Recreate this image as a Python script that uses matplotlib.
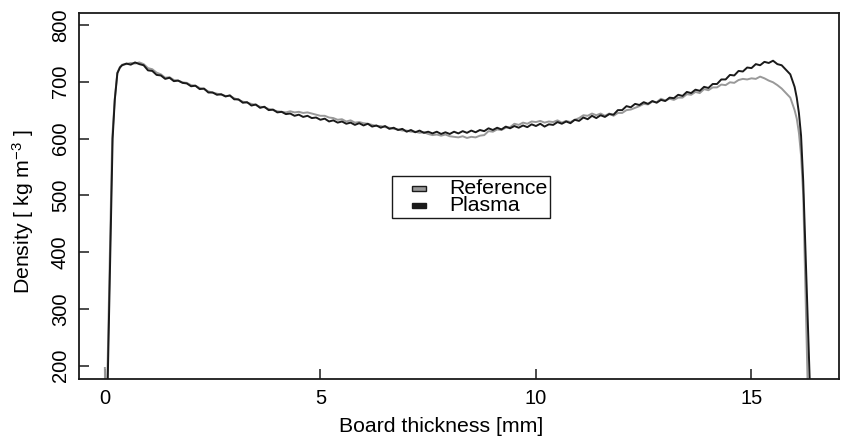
import matplotlib
matplotlib.use("Agg")
import matplotlib.pyplot as plt
from matplotlib.patches import Patch, Rectangle
from matplotlib.legend_handler import HandlerPatch

plt.rcParams['font.family'] = ['Liberation Sans', 'DejaVu Sans']
plt.rcParams['mathtext.fontset'] = 'custom'
plt.rcParams['mathtext.rm'] = 'Liberation Sans'
plt.rcParams['mathtext.it'] = 'Liberation Sans'

# ---- data ----
x_mid = [round(0.4 + 0.1 * i, 1) for i in range(156)]  # 0.4 .. 15.9

plasma_mid = [
    729, 732, 730, 734, 731, 729, 720, 719, 712, 711,
    705, 707, 701, 702, 698, 697, 692, 693, 687, 688,
    681, 681, 677, 678, 674, 676, 669, 669, 663, 664,
    658, 660, 654, 656, 650, 651, 646, 647, 643, 644,
    640, 642, 638, 640, 636, 637, 633, 635, 630, 632,
    628, 630, 626, 628, 624, 627, 623, 626, 621, 623,
    619, 622, 617, 619, 615, 617, 612, 615, 611, 614,
    610, 612, 609, 612, 608, 611, 608, 612, 609, 613,
    610, 614, 611, 615, 613, 618, 615, 619, 616, 621,
    618, 622, 619, 623, 620, 625, 622, 626, 621, 625,
    624, 629, 626, 630, 627, 633, 631, 637, 634, 640,
    636, 641, 638, 643, 642, 650, 650, 657, 655, 661,
    659, 664, 661, 666, 663, 668, 666, 672, 671, 677,
    675, 682, 680, 686, 684, 691, 689, 696, 696, 704,
    704, 712, 711, 719, 718, 725, 724, 731, 729, 735,
    733, 737, 731, 729, 721, 713,
]

reference_mid = [
    730, 731, 733, 732, 734, 731, 724, 722, 716, 713,
    707, 708, 703, 702, 699, 698, 694, 693, 689, 687,
    683, 681, 679, 677, 675, 675, 671, 668, 665, 663,
    661, 659, 656, 655, 652, 650, 648, 647, 646, 648,
    646, 647, 645, 646, 644, 642, 640, 640, 637, 636,
    633, 634, 630, 632, 628, 629, 627, 626, 624, 622,
    622, 620, 619, 617, 616, 614, 614, 612, 612, 610,
    611, 608, 606, 607, 605, 607, 604, 603, 602, 604,
    601, 603, 602, 605, 606, 613, 612, 616, 615, 619,
    620, 626, 624, 628, 626, 630, 629, 631, 628, 630,
    629, 632, 628, 631, 629, 633, 636, 641, 640, 644,
    641, 644, 640, 644, 640, 645, 645, 650, 651, 654,
    657, 661, 660, 665, 664, 670, 667, 670, 668, 672,
    672, 678, 677, 682, 680, 687, 685, 690, 690, 695,
    694, 699, 698, 703, 705, 704, 706, 705, 709, 706,
    702, 699, 694, 688, 680, 672,
]

plasma_x = [0.06, 0.18, 0.23, 0.29, 0.35] + x_mid + [16.0, 16.05, 16.1, 16.15, 16.2, 16.35, 16.38]
plasma_y = [150, 600, 668, 715, 725] + plasma_mid + [691, 672, 645, 605, 525, 176, 100]

reference_x = [0.0, 0.01, 0.05, 0.17, 0.23, 0.29, 0.35] + x_mid + [16.0, 16.05, 16.1, 16.15, 16.2, 16.3, 16.32]
reference_y = [196, 100, 150, 600, 670, 716, 726] + reference_mid + [650, 635, 610, 570, 500, 176, 100]

series_names = ["Reference", "Plasma"]
series_colors = ["#999999", "#1a1a1a"]
x_ticks = [0, 5, 10, 15]
y_ticks = [200, 300, 400, 500, 600, 700, 800]

# ---- figure ----
fig = plt.figure(figsize=(8.41, 4.46), dpi=100)
ax = fig.add_axes([79 / 841, 67 / 446, 760 / 841, 366 / 446])

ax.plot(reference_x, reference_y, color=series_colors[0], lw=1.4)
ax.plot(plasma_x, plasma_y, color=series_colors[1], lw=1.4)

ax.set_xlim(-0.6, 17.03)
ax.set_ylim(176.6, 821)
ax.set_xticks(x_ticks)
ax.set_yticks(y_ticks)
ax.tick_params(direction='in', length=7.2, width=1.1, labelsize=14.5, color='#1a1a1a')
ax.tick_params(axis='x', pad=7.5)
ax.tick_params(axis='y', pad=6.5)
for lab in ax.get_yticklabels():
    lab.set_rotation(90)
    lab.set_va('center')
for s in ax.spines.values():
    s.set_linewidth(1.3)
    s.set_color('#1a1a1a')

ax.set_xlabel("Board thickness [mm]", fontsize=15.3)
ax.xaxis.set_label_coords(0.476, -0.105)
ax.set_ylabel("Density [ kg m$^{-3}$ ]", fontsize=15.3)
ax.yaxis.set_label_coords(-0.0566, 0.456)


def legend_box(legend, orig_handle, xdescent, ydescent, width, height, fontsize):
    return Rectangle((-xdescent + 12.0, -ydescent + 2.0), 10.1, 4.0)


handles = [Patch(facecolor=c, edgecolor='#1a1a1a', lw=1.0) for c in series_colors]
leg = ax.legend(handles, series_names, loc='center', bbox_to_anchor=(0.516, 0.497),
                fontsize=15.3, fancybox=False, framealpha=1, edgecolor='#1a1a1a',
                handlelength=1.45, handleheight=0.7, labelspacing=-0.08,
                handletextpad=1.08, borderpad=0.15, borderaxespad=0,
                handler_map={Patch: HandlerPatch(patch_func=legend_box)})
leg.get_frame().set_linewidth(1.0)

fig.savefig("out.png", dpi=100)
